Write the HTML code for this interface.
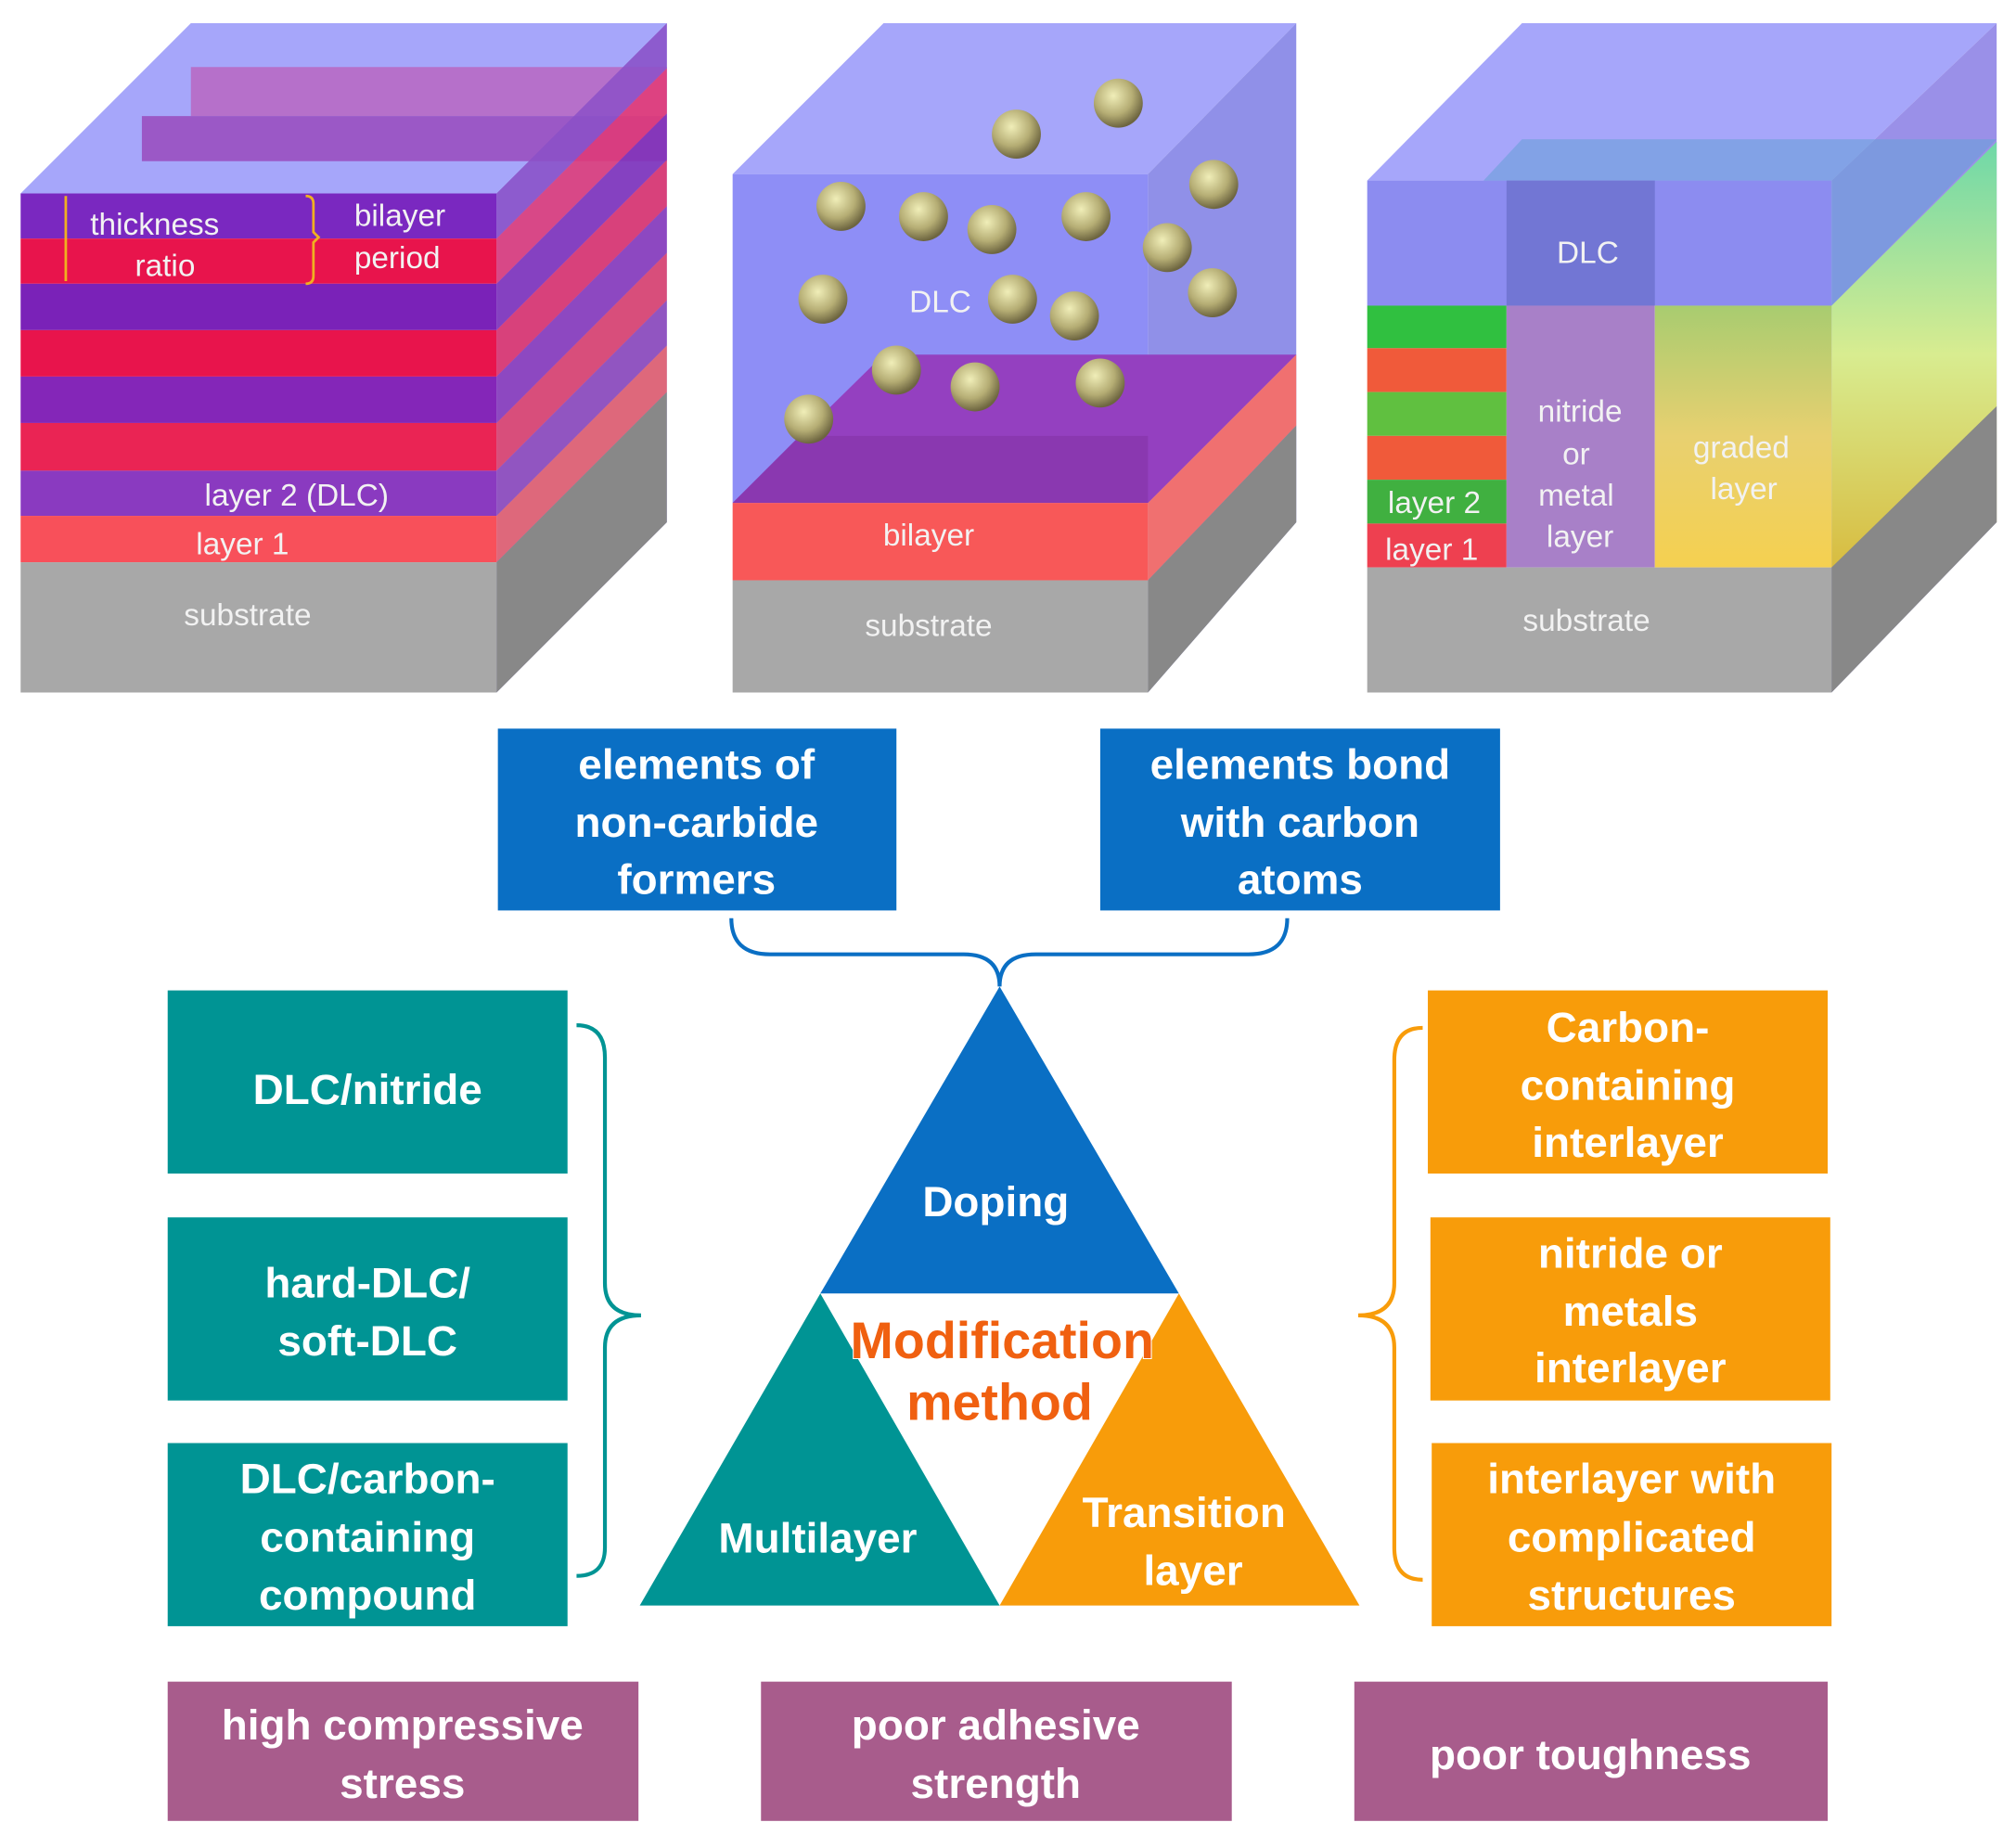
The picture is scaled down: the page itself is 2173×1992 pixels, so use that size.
<!DOCTYPE html>
<html><head><meta charset="utf-8"><style>
html,body{margin:0;padding:0;background:#fff;}
svg{display:block;}
text{font-family:"Liberation Sans",sans-serif;}
.b{font-weight:bold;fill:#fff;font-size:33px;text-anchor:middle;}
.s{fill:#f2f2f2;font-size:24px;text-anchor:middle;}
</style></head><body>
<svg width="2173" height="1992" viewBox="0 0 1563 1433" preserveAspectRatio="none" xmlns="http://www.w3.org/2000/svg">
<defs>
<radialGradient id="sp" cx="0.4" cy="0.35" r="0.65"><stop offset="0" stop-color="#f0eeb8"/><stop offset="0.6" stop-color="#b5ad74"/><stop offset="1" stop-color="#6d6540"/></radialGradient>
<linearGradient id="gy" x1="0" y1="0" x2="0" y2="1"><stop offset="0" stop-color="#a8cc70"/><stop offset="0.5" stop-color="#e8d070"/><stop offset="1" stop-color="#f5d050"/></linearGradient>
<linearGradient id="gr" x1="0" y1="0" x2="0" y2="1"><stop offset="0" stop-color="#6ed8a8"/><stop offset="0.5" stop-color="#d8ec90"/><stop offset="1" stop-color="#d8bc40"/></linearGradient>
</defs>

<!-- Cube 1 -->
<polygon points="16,150 148,18 517,18 385,150" fill="#a6a6fa"/>
<polygon points="385,150 517,18 517,405 385,537" fill="#9a8ae8"/>
<polygon points="148,52 517,52 517,90 148,90" fill="#b86ac4" opacity="0.9"/>
<polygon points="110,90 517,90 517,125 110,125" fill="#9a50c0" opacity="0.9"/>
<g opacity="0.8">
<polygon points="385,150 517,18 517,53 385,185" fill="#8a50c8"/>
<polygon points="385,185 517,53 517,88 385,220" fill="#e83870"/>
<polygon points="385,220 517,88 517,124 385,256" fill="#8030b8"/>
<polygon points="385,256 517,124 517,160 385,292" fill="#e83060"/>
<polygon points="385,292 517,160 517,196 385,328" fill="#8a38b8"/>
<polygon points="385,328 517,196 517,233 385,365" fill="#e84060"/>
<polygon points="385,365 517,233 517,268 385,400" fill="#9048b8"/>
<polygon points="385,400 517,268 517,304 385,436" fill="#f06060"/>
</g>
<rect x="16" y="150" width="369" height="35" fill="#7a28c0"/>
<rect x="16" y="185" width="369" height="35" fill="#e8144c"/>
<rect x="16" y="220" width="369" height="36" fill="#7a22b8"/>
<rect x="16" y="256" width="369" height="36" fill="#e8144c"/>
<rect x="16" y="292" width="369" height="36" fill="#8426b8"/>
<rect x="16" y="328" width="369" height="37" fill="#ea2454"/>
<rect x="16" y="365" width="369" height="35" fill="#8a3ac0"/>
<rect x="16" y="400" width="369" height="36" fill="#f8505a"/>
<rect x="16" y="436" width="369" height="101" fill="#a8a8a8"/>
<polygon points="385,436 517,304 517,405 385,537" fill="#888"/>
<path d="M237,152 q6,0 6,6 v22 l4,4 -4,4 v26 q0,6 -6,6" stroke="#f0b020" stroke-width="2" fill="none"/>
<line x1="51" y1="152" x2="51" y2="218" stroke="#f0b020" stroke-width="2"/>
<text x="120" y="182" class="s">thickness</text>
<text x="128" y="214" class="s">ratio</text>
<text x="310" y="175" class="s">bilayer</text>
<text x="308" y="208" class="s">period</text>
<text x="230" y="392" class="s">layer 2 (DLC)</text>
<text x="188" y="430" class="s">layer 1</text>
<text x="192" y="485" class="s">substrate</text>

<!-- Cube 2 -->
<polygon points="568,135 685,18 1005,18 890,135" fill="#a6a6fa"/>
<polygon points="890,135 1005,18 1005,405 890,537" fill="#9090e8"/>
<rect x="568" y="135" width="322" height="255" fill="#8e8ef6"/>
<polygon points="568,390 685,275 1005,275 890,390" fill="#9440c0"/>
<polygon points="568,390 620,338 890,338 890,390" fill="#8a38b0"/>
<polygon points="890,390 1005,275 1005,330 890,450" fill="#f07070"/>
<rect x="568" y="390" width="322" height="60" fill="#f85858"/>
<rect x="568" y="450" width="322" height="87" fill="#a8a8a8"/>
<polygon points="890,450 1005,330 1005,405 890,537" fill="#888"/>
<g fill="url(#sp)">
<circle cx="788" cy="104" r="19"/><circle cx="867" cy="80" r="19"/><circle cx="652" cy="160" r="19"/><circle cx="716" cy="168" r="19"/><circle cx="769" cy="178" r="19"/><circle cx="842" cy="168" r="19"/><circle cx="941" cy="143" r="19"/><circle cx="905" cy="192" r="19"/><circle cx="638" cy="232" r="19"/><circle cx="785" cy="232" r="19"/><circle cx="833" cy="245" r="19"/><circle cx="940" cy="227" r="19"/><circle cx="695" cy="287" r="19"/><circle cx="756" cy="300" r="19"/><circle cx="853" cy="297" r="19"/><circle cx="627" cy="325" r="19"/>
</g>
<text x="729" y="242" class="s" font-size="22">DLC</text>
<text x="720" y="423" class="s" font-size="22">bilayer</text>
<text x="720" y="493" class="s" font-size="22">substrate</text>

<!-- Cube 3 -->
<polygon points="1060,140 1180,18 1548,18 1420,140" fill="#a6a6fa"/>
<polygon points="1420,140 1548,18 1548,405 1420,537" fill="#9a90e8"/>
<polygon points="1420,237 1548,110 1548,405 1420,440" fill="url(#gr)"/>
<polygon points="1180,108 1548,108 1420,237 1060,237" fill="#6aa0d8" opacity="0.6"/>
<rect x="1060" y="140" width="360" height="97" fill="#8c8cf0"/>
<rect x="1168" y="140" width="115" height="97" fill="#5860b8" opacity="0.5"/>
<rect x="1060" y="237" width="108" height="33" fill="#30c040"/>
<rect x="1060" y="270" width="108" height="34" fill="#f05a3a"/>
<rect x="1060" y="304" width="108" height="34" fill="#60c040"/>
<rect x="1060" y="338" width="108" height="34" fill="#f05a3a"/>
<rect x="1060" y="372" width="108" height="34" fill="#40b040"/>
<rect x="1060" y="406" width="108" height="34" fill="#ee4050"/>
<rect x="1168" y="237" width="115" height="203" fill="#a880c8"/>
<rect x="1283" y="237" width="137" height="203" fill="url(#gy)"/>
<rect x="1060" y="440" width="360" height="97" fill="#a8a8a8"/>
<polygon points="1420,440 1548,315 1548,405 1420,537" fill="#888"/>
<text x="1231" y="204" class="s">DLC</text>
<text x="1225" y="327" class="s">nitride</text>
<text x="1222" y="360" class="s">or</text>
<text x="1222" y="392" class="s">metal</text>
<text x="1225" y="424" class="s">layer</text>
<text x="1350" y="355" class="s">graded</text>
<text x="1352" y="387" class="s">layer</text>
<text x="1112" y="398" class="s">layer 2</text>
<text x="1110" y="434" class="s">layer 1</text>
<text x="1230" y="489" class="s">substrate</text>

<!-- Blue boxes -->
<rect x="386" y="565" width="309" height="141" fill="#0a6fc4"/>
<rect x="853" y="565" width="310" height="141" fill="#0a6fc4"/>
<text class="b" x="540" y="604">elements of</text>
<text class="b" x="540" y="649">non-carbide</text>
<text class="b" x="540" y="693">formers</text>
<text class="b" x="1008" y="604">elements bond</text>
<text class="b" x="1008" y="649">with carbon</text>
<text class="b" x="1008" y="693">atoms</text>
<path d="M567,712 q0,28 30,28 h150 q28,0 28,25 q0,-25 28,-25 h165 q30,0 30,-28" stroke="#0a6fc4" stroke-width="3" fill="none"/>

<!-- Triangles -->
<polygon points="775,765 636,1003 914,1003" fill="#0a6fc4"/>
<polygon points="636,1003 496,1245 775,1245" fill="#009494"/>
<polygon points="914,1003 775,1245 1054,1245" fill="#f89c0a"/>
<text class="b" x="772" y="943">Doping</text>
<text class="b" x="634" y="1204">Multilayer</text>
<text class="b" x="918" y="1184">Transition</text>
<text class="b" x="925" y="1229">layer</text>
<text x="777" y="1053" text-anchor="middle" font-size="40" font-weight="bold" fill="#f06010" stroke="#fff" stroke-width="1.5" paint-order="stroke">Modification</text>
<text x="775" y="1101" text-anchor="middle" font-size="40" font-weight="bold" fill="#f06010" stroke="#fff" stroke-width="1.5" paint-order="stroke">method</text>

<!-- Teal boxes -->
<rect x="130" y="768" width="310" height="142" fill="#009494"/>
<rect x="130" y="944" width="310" height="142" fill="#009494"/>
<rect x="130" y="1119" width="310" height="142" fill="#009494"/>
<text class="b" x="285" y="856" font-size="39">DLC/nitride</text>
<text class="b" x="285" y="1006">hard-DLC/</text>
<text class="b" x="285" y="1051">soft-DLC</text>
<text class="b" x="285" y="1158">DLC/carbon-</text>
<text class="b" x="285" y="1203">containing</text>
<text class="b" x="285" y="1248">compound</text>
<path d="M447,795 q22,0 22,25 v175 q0,25 28,25 q-28,0 -28,25 v155 q0,22 -22,22" stroke="#009494" stroke-width="3" fill="none"/>

<!-- Orange boxes -->
<rect x="1107" y="768" width="310" height="142" fill="#f89c0a"/>
<rect x="1109" y="944" width="310" height="142" fill="#f89c0a"/>
<rect x="1110" y="1119" width="310" height="142" fill="#f89c0a"/>
<text class="b" x="1262" y="808">Carbon-</text>
<text class="b" x="1262" y="853">containing</text>
<text class="b" x="1262" y="897">interlayer</text>
<text class="b" x="1264" y="983">nitride or</text>
<text class="b" x="1264" y="1028">metals</text>
<text class="b" x="1264" y="1072">interlayer</text>
<text class="b" x="1265" y="1158">interlayer with</text>
<text class="b" x="1265" y="1203">complicated</text>
<text class="b" x="1265" y="1248">structures</text>
<path d="M1103,797 q-22,0 -22,25 v173 q0,25 -28,25 q28,0 28,25 v155 q0,25 22,25" stroke="#f89c0a" stroke-width="3" fill="none"/>

<!-- Purple boxes -->
<rect x="130" y="1304" width="365" height="108" fill="#a85c8c"/>
<rect x="590" y="1304" width="365" height="108" fill="#a85c8c"/>
<rect x="1050" y="1304" width="367" height="108" fill="#a85c8c"/>
<text class="b" x="312" y="1349">high compressive</text>
<text class="b" x="312" y="1394">stress</text>
<text class="b" x="772" y="1349">poor adhesive</text>
<text class="b" x="772" y="1394">strength</text>
<text class="b" x="1233" y="1372">poor toughness</text>
</svg>
</body></html>
